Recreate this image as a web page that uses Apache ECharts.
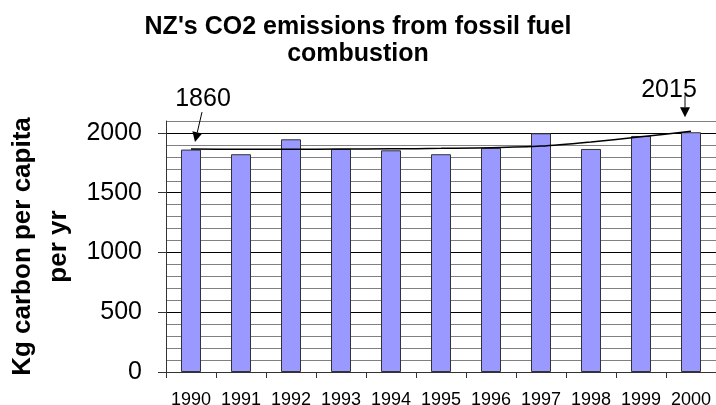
<!DOCTYPE html>
<html>
<head>
<meta charset="utf-8">
<script src="https://cdn.jsdelivr.net/npm/echarts@6/dist/echarts.min.js"></script>
<style>
html, body { margin: 0; padding: 0; background: #fff; }
#chart { width: 716px; height: 405px; }
</style>
</head>
<body>
<div id="chart"></div>
<script>
// NZ per-capita CO2 (kg carbon / yr)
var years = ['1990', '1991', '1992', '1993', '1994', '1995', '1996', '1997', '1998', '1999', '2000'];
var emissions = [1861, 1822, 1947, 1866, 1855, 1822, 1875, 1997, 1866, 1975, 2006];
var trend = [1865, 1864, 1864, 1865, 1867, 1871, 1876, 1890, 1925, 1968, 2014];
var yLabels = [0, 500, 1000, 1500, 2000];
var notes = ['1860', '2015'];
var yTitle = ['Kg carbon per capita', 'per yr'];

var font = 'Arial, "Liberation Sans", sans-serif';
// every 5th gridline (the 500s) is black, the others grey
var gridColors = ['#000', '#808080', '#808080', '#808080', '#808080'];

var chart = echarts.init(document.getElementById('chart'), null, { renderer: 'canvas' });

var option = {
    animation: false,
    backgroundColor: '#fff',
    title: {
        text: "NZ's CO2 emissions from fossil fuel\ncombustion",
        left: 'center',
        top: 9,
        textStyle: { fontFamily: font, fontWeight: 'bold', fontSize: 25, lineHeight: 27, color: '#000' }
    },
    grid: { left: 166, right: 0, top: 121, bottom: 33, containLabel: false, outerBoundsMode: 'none' },
    xAxis: {
        type: 'category',
        data: years,
        boundaryGap: true,
        axisLine: { lineStyle: { color: '#333', width: 1 } },
        axisTick: { show: true, length: 6, lineStyle: { color: '#333' } },
        axisLabel: { fontFamily: font, fontSize: 18, color: '#000', margin: 19, interval: 0 }
    },
    yAxis: [
        {
            // gridlines every 100
            type: 'value',
            min: 0,
            max: 2100,
            interval: 100,
            axisLine: { show: false },
            axisTick: { show: false },
            axisLabel: { show: false },
            splitLine: { show: true, lineStyle: { color: gridColors, width: 1 } }
        },
        {
            // labels and outside ticks every 500
            type: 'value',
            position: 'left',
            min: 0,
            max: 2100,
            interval: 500,
            axisLine: { show: true, lineStyle: { color: '#333', width: 1 } },
            axisTick: { show: true, length: 8, lineStyle: { color: '#333' } },
            splitLine: { show: false },
            axisLabel: {
                fontFamily: font,
                fontSize: 25,
                color: '#000',
                margin: 24,
                showMaxLabel: false,
                formatter: function (v) {
                    return yLabels.indexOf(v) >= 0 ? String(v) : '';
                }
            }
        }
    ],
    series: [
        {
            name: 'emissions',
            type: 'bar',
            yAxisIndex: 0,
            data: emissions,
            barWidth: '40%',
            itemStyle: { color: '#9999FF', borderColor: '#333', borderWidth: 1 }
        },
        {
            name: 'trend',
            type: 'line',
            yAxisIndex: 0,
            data: trend,
            smooth: 0.3,
            showSymbol: false,
            symbol: 'none',
            lineStyle: { color: '#000', width: 1.5 },
            z: 5
        }
    ]
};

chart.setOption(option);

function arrow(x1, y1, x2, y2) {
    var ang = Math.atan2(y2 - y1, x2 - x1);
    var len = 10, half = 5;
    var bx = x2 - len * Math.cos(ang), by = y2 - len * Math.sin(ang);
    var px = -Math.sin(ang) * half, py = Math.cos(ang) * half;
    return [
        { type: 'line', shape: { x1: x1, y1: y1, x2: bx, y2: by }, style: { stroke: '#000', lineWidth: 1 }, z: 10 },
        { type: 'polygon', shape: { points: [[x2, y2], [bx + px, by + py], [bx - px, by - py]] }, style: { fill: '#000' }, z: 10 }
    ];
}

// annotations hang off the first and last trend points
var p0 = chart.convertToPixel({ xAxisIndex: 0, yAxisIndex: 0 }, [years[0], trend[0]]);
var p1 = chart.convertToPixel({ xAxisIndex: 0, yAxisIndex: 0 }, [years[years.length - 1], trend[trend.length - 1]]);
// vertical middle of the plot, for the axis title
var yMid = (chart.convertToPixel({ yAxisIndex: 0 }, 0) + chart.convertToPixel({ yAxisIndex: 0 }, 2100)) / 2;

var graphics = [];
yTitle.forEach(function (line, i) {
    graphics.push({
        type: 'text', z: 10,
        x: 23 + i * 36, y: yMid, rotation: Math.PI / 2,
        style: { text: line, x: 0, y: 0, fontFamily: font, fontWeight: 'bold', fontSize: 26, fill: '#000', align: 'center', verticalAlign: 'middle' }
    });
});
graphics.push(
    {
        type: 'text', z: 10,
        style: { text: notes[0], x: p0[0] + 12, y: p0[1] - 50, fontFamily: font, fontSize: 25, fill: '#000', align: 'center', verticalAlign: 'middle' }
    },
    {
        type: 'text', z: 10,
        style: { text: notes[1], x: p1[0] - 22, y: p1[1] - 41, fontFamily: font, fontSize: 25, fill: '#000', align: 'center', verticalAlign: 'middle' }
    }
);
graphics = graphics
    .concat(arrow(p0[0] + 11, p0[1] - 37, p0[0] + 4, p0[1] - 7))
    .concat(arrow(p1[0] - 6, p1[1] - 36, p1[0] - 6, p1[1] - 14));

chart.setOption({ graphic: graphics });
</script>
</body>
</html>
